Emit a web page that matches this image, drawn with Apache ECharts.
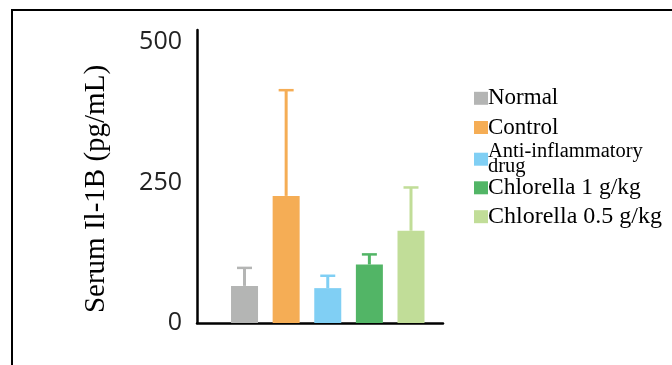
<!DOCTYPE html>
<html><head><meta charset="utf-8">
<script src="https://cdn.jsdelivr.net/npm/echarts@6/dist/echarts.min.js"></script>
<style>html,body{margin:0;padding:0;background:#fff}#c{width:672px;height:365px}</style>
</head><body><div id="c"></div>
<script>
// ---- data ----
const groups = ['Normal', 'Control', 'Anti-inflammatory\ndrug', 'Chlorella 1 g/kg', 'Chlorella 0.5 g/kg'];
const means = [66, 226, 62, 104, 164];
const errors = [32, 188, 22, 18, 77];
const yTicks = [0, 250, 500];
const yTitle = 'Serum Il-1B (pg/mL)';
// ---- style ----
const colors = ['#b4b5b4', '#f5ad55', '#80cff4', '#52b566', '#c1dd98'];
// legend layout: marker centre y, text shift (px, negative = up), font size, line height
const legendLayout = [
  {cy: 98.3, shift: -2.8, fs: 23, lh: 23},
  {cy: 127.5, shift: -3.3, fs: 23, lh: 23},
  {cy: 159.2, shift: -4, fs: 20.5, lh: 15},
  {cy: 187.8, shift: 2.7, fs: 23.5, lh: 23},
  {cy: 216.7, shift: 3.8, fs: 24, lh: 24}
];
const MW = 14, MH = 13;

const chart = echarts.init(document.getElementById('c'));

const legends = groups.map((g, i) => {
  const L = legendLayout[i];
  const lines = g.split('\n').length;
  const pad = L.shift < 0 ? [0, 0, -2 * L.shift, -5] : [2 * L.shift, 0, 0, -5];
  const H = L.lh * lines + Math.abs(2 * L.shift);
  const top = (L.cy - MH / 2) + Math.min(0, MH / 2 - H / 2);
  return {
    data: [g], left: 474, top: top, orient: 'vertical', padding: 0, itemGap: 0,
    itemWidth: MW, itemHeight: MH, icon: 'rect', selectedMode: false,
    textStyle: {fontFamily: '"Liberation Serif", "Times New Roman", serif', fontSize: L.fs, lineHeight: L.lh, color: '#000', padding: pad}
  };
});

const barSeries = groups.map((g, i) => ({
  type: 'bar', name: g, data: [[i, means[i]]], barWidth: 27, barGap: '-100%',
  itemStyle: {color: colors[i]}, emphasis: {disabled: true}
}));

const errSeries = {
  type: 'custom', name: 'err', z: 3,
  data: groups.map((g, i) => [i, means[i], means[i] + errors[i]]),
  renderItem: function (params, api) {
    const x = api.value(0), m = api.value(1), t = api.value(2);
    const p0 = api.coord([x, m]), p1 = api.coord([x, t]);
    const c = colors[params.dataIndex];
    const hw = 7.5;
    return {type: 'group', children: [
      {type: 'line', shape: {x1: p0[0], y1: p0[1], x2: p1[0], y2: p1[1]}, style: {stroke: c, lineWidth: 3}},
      {type: 'line', shape: {x1: p1[0] - hw, y1: p1[1], x2: p1[0] + hw, y2: p1[1]}, style: {stroke: c, lineWidth: 2.5}}
    ]};
  }
};

chart.setOption({
  animation: false,
  backgroundColor: '#fff',
  grid: {left: 197, right: 229, top: 30, bottom: 42, containLabel: false},
  xAxis: {
    type: 'value', min: -1.142, max: 4.769,
    axisLine: {show: true, onZero: false, lineStyle: {color: '#000', width: 2.5}},
    axisTick: {show: false}, axisLabel: {show: false}, splitLine: {show: false}
  },
  yAxis: {
    type: 'value', min: 0, max: 521, interval: 250,
    axisLine: {show: true, onZero: false, lineStyle: {color: '#000', width: 2.5}},
    axisTick: {show: false}, splitLine: {show: false},
    axisLabel: {customValues: yTicks, margin: 15, fontFamily: '"Open Sans", sans-serif', fontSize: 25, color: '#222'}
  },
  legend: legends,
  series: barSeries.concat([errSeries]),
  graphic: [
    {type: 'rect', silent: true, shape: {x: 12, y: 10, width: 700, height: 400}, style: {fill: 'none', stroke: '#000', lineWidth: 2}},
    {type: 'text', silent: true, x: 96, y: 189, rotation: Math.PI / 2,
      style: {text: yTitle, font: '29px "Liberation Serif", "Times New Roman", serif', align: 'center', verticalAlign: 'middle', fill: '#000'}}
  ]
});
</script>
</body></html>
